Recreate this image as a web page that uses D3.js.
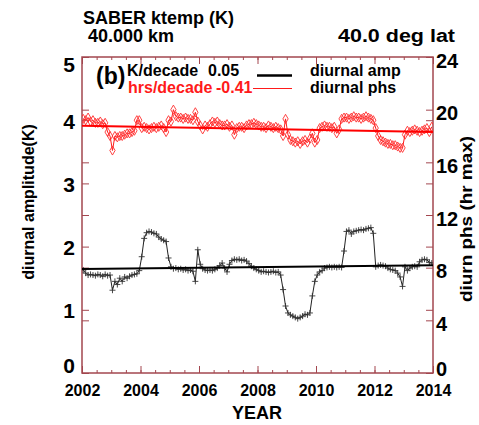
<!DOCTYPE html>
<html>
<head>
<meta charset="utf-8">
<script src="https://cdn.jsdelivr.net/npm/d3@7"></script>
<style>
body { margin: 0; background: #fff; }
text { font-family: "Liberation Sans", Arial, Helvetica, sans-serif; font-weight: bold; }
</style>
</head>
<body>
<svg id="chart" width="479" height="425"></svg>
<script>
// monthly values, one row per year (2002..2013)
var years = [2002, 2003, 2004, 2005, 2006, 2007, 2008, 2009, 2010, 2011, 2012, 2013];
var ampByYear = [
  [1.63,1.58,1.55,1.56,1.55,1.54,1.56,1.55,1.53,1.56,1.54,1.55],
  [1.31,1.45,1.40,1.50,1.45,1.52,1.50,1.53,1.55,1.56,1.57,1.62],
  [1.84,2.13,2.22,2.24,2.23,2.21,2.20,2.15,2.12,2.10,2.08,1.82],
  [1.68,1.65,1.66,1.64,1.65,1.63,1.64,1.62,1.63,1.61,1.45,1.95],
  [1.72,1.65,1.63,1.62,1.63,1.62,1.64,1.66,1.70,1.74,1.66,1.60],
  [1.72,1.78,1.80,1.79,1.80,1.78,1.79,1.77,1.73,1.69,1.66,1.64],
  [1.62,1.60,1.61,1.60,1.59,1.60,1.61,1.59,1.60,1.55,1.32,1.06],
  [0.95,0.92,0.90,0.88,0.86,0.88,0.90,0.93,0.92,0.95,1.22,1.45],
  [1.55,1.60,1.62,1.66,1.67,1.68,1.67,1.68,1.67,1.68,1.67,1.93],
  [2.24,2.26,2.20,2.24,2.25,2.26,2.27,2.26,2.28,2.29,2.30,2.21],
  [1.68,1.70,1.71,1.70,1.69,1.66,1.64,1.63,1.62,1.58,1.52,1.37],
  [1.68,1.62,1.66,1.68,1.69,1.68,1.76,1.79,1.80,1.79,1.75,1.74]
];
var phsByYear = [
  [19.3,19.2,19.4,19.1,19.2,19.0,19.0,19.1,18.9,19.0,18.3,18.0],
  [16.9,18.0,17.9,18.0,18.0,18.1,18.2,18.2,18.3,18.4,19.2,19.2],
  [18.6,18.7,18.6,18.5,18.6,18.7,18.6,18.7,18.8,18.6,18.3,19.2],
  [19.1,20.0,19.5,19.4,19.4,19.3,19.4,19.3,19.3,19.2,19.8,19.1],
  [18.8,18.5,18.8,18.7,18.9,19.1,19.0,19.1,18.9,18.8,18.8,18.9],
  [18.7,18.8,18.1,18.6,18.7,18.7,18.6,18.8,18.9,18.9,19.0,18.9],
  [18.8,18.7,18.7,18.6,18.8,18.7,18.6,18.7,18.6,18.5,18.0,19.3],
  [18.1,17.7,17.6,17.5,17.6,17.4,17.6,17.7,17.5,17.8,18.2,17.5],
  [17.7,18.6,18.7,18.8,18.7,18.7,18.6,18.7,18.2,18.5,19.3,19.4],
  [19.4,19.3,19.4,19.5,19.4,19.4,19.3,19.4,19.5,19.4,19.3,19.2],
  [18.6,18.0,17.7,17.6,17.5,17.4,17.4,17.3,17.3,17.2,17.1,17.1],
  [18.1,18.4,18.3,18.4,18.5,18.4,18.3,18.4,18.5,18.6,18.3,18.7]
];
// linear trends, value at 2002 and at 2014
var ampTrend = [1.645, 1.705];
var phsTrend = [18.78, 18.30];
var trendYears = [2002, 2014];

var kTicks = [0, 1, 2, 3, 4, 5];
var hrTicks = [0, 4, 8, 12, 16, 20, 24];
var yearTicks = [2002, 2004, 2006, 2008, 2010, 2012, 2014];

var frameColor = "#a3474f";

var svg = d3.select("#chart");
// plot box edges (note: "top" is taken by window.top)
var plotL = 82, plotR = 433, plotT = 57, plotB = 373;

var x = d3.scaleLinear().domain([2002, 2014]).range([plotL, plotR]);
var yK = d3.scaleLinear().domain([0, 5]).range([plotB, plotT]);
var yH = d3.scaleLinear().domain([0, 24]).range([plotB, plotT]);

function monthly(rows) {
  var out = [];
  rows.forEach(function(row, i) {
    row.forEach(function(v, m) {
      out.push({ t: years[i] + (m + 0.5) / 12, v: v });
    });
  });
  return out;
}
var amp = monthly(ampByYear);
var phs = monthly(phsByYear);

// header
svg.append("text").attr("x", 83).attr("y", 24).attr("font-size", 18).text("SABER ktemp (K)");
svg.append("text").attr("x", 88).attr("y", 42).attr("font-size", 18).text("40.000 km");
svg.append("text").attr("x", 455).attr("y", 42).attr("font-size", 18)
  .attr("text-anchor", "end").attr("textLength", 117).attr("lengthAdjust", "spacingAndGlyphs")
  .text("40.0 deg lat");

svg.append("defs").append("clipPath").attr("id", "clip")
  .append("rect").attr("x", plotL).attr("y", plotT).attr("width", plotR - plotL).attr("height", plotB - plotT);

// axes (ticks inward)
function styleAxis(g, size) {
  g.select(".domain").remove();
  g.selectAll("line").attr("stroke", frameColor).attr("stroke-width", 1);
  g.selectAll("text").attr("font-family", null).attr("font-size", size).attr("fill", "#000");
}

var minorYears = d3.range(2002, 2014.01, 0.5);
svg.append("g").attr("transform", "translate(0," + plotB + ")")
  .call(d3.axisBottom(x).tickValues(minorYears).tickSize(-3).tickFormat(""))
  .call(styleAxis, 16);
svg.append("g").attr("transform", "translate(0," + plotT + ")")
  .call(d3.axisTop(x).tickValues(minorYears).tickSize(-3).tickFormat(""))
  .call(styleAxis, 16);
svg.append("g").attr("transform", "translate(0," + plotB + ")")
  .call(d3.axisBottom(x).tickValues(yearTicks).tickSize(-7).tickPadding(12).tickFormat(d3.format("d")))
  .call(styleAxis, 16);
svg.append("g").attr("transform", "translate(0," + plotT + ")")
  .call(d3.axisTop(x).tickValues(yearTicks).tickSize(-7).tickFormat(""))
  .call(styleAxis, 16);

// label nudges: end labels pulled inward like the original plot
var leftAx = svg.append("g").attr("transform", "translate(" + plotL + ",0)")
  .call(d3.axisLeft(yK).tickValues(kTicks).tickSize(-7).tickPadding(7).tickFormat(d3.format("d")))
  .call(styleAxis, 21);
leftAx.selectAll("text").attr("dy", null)
  .attr("y", function(d) { return d === 5 ? 14 : d === 0 ? -1 : 8; });
svg.append("g").attr("transform", "translate(" + plotL + ",0)")
  .call(d3.axisLeft(yH).tickValues(hrTicks).tickSize(-7).tickFormat(""))
  .call(styleAxis, 21);

var rightAx = svg.append("g").attr("transform", "translate(" + plotR + ",0)")
  .call(d3.axisRight(yH).tickValues(hrTicks).tickSize(-7).tickPadding(3))
  .call(styleAxis, 20);
rightAx.selectAll("text").attr("dy", null)
  .attr("y", function(d) { return d === 0 ? 2 : 10; });
svg.append("g").attr("transform", "translate(" + plotR + ",0)")
  .call(d3.axisRight(yK).tickValues(kTicks).tickSize(-7).tickFormat(""))
  .call(styleAxis, 20);

// frame
svg.append("rect").attr("x", plotL).attr("y", plotT)
  .attr("width", plotR - plotL).attr("height", plotB - plotT)
  .attr("fill", "none").attr("stroke", frameColor).attr("stroke-width", 1.5);

// axis titles
svg.append("text").attr("transform", "translate(34,202) rotate(-90)")
  .attr("text-anchor", "middle").attr("font-size", 16).text("diurnal amplitude(K)");
svg.append("text").attr("transform", "translate(472,219) rotate(-90)")
  .attr("text-anchor", "middle").attr("font-size", 17)
  .attr("textLength", 166).attr("lengthAdjust", "spacingAndGlyphs")
  .text("diurn phs (hr max)");
svg.append("text").attr("x", 257).attr("y", 419).attr("text-anchor", "middle")
  .attr("font-size", 18).text("YEAR");

var plot = svg.append("g").attr("clip-path", "url(#clip)");

// phase series (red, right axis)
var linePhs = d3.line().x(function(d) { return x(d.t); }).y(function(d) { return yH(d.v); });
plot.append("path").datum(phs).attr("d", linePhs)
  .attr("fill", "none").attr("stroke", "#ff1a1a").attr("stroke-width", 1);
plot.selectAll(".dia").data(phs).enter().append("path")
  .attr("class", "dia")
  .attr("transform", function(d) { return "translate(" + x(d.t) + "," + yH(d.v) + ")"; })
  .attr("d", d3.symbol(d3.symbolDiamond).size(24))
  .attr("fill", "none").attr("stroke", "#ff3030").attr("stroke-width", 0.9);
plot.append("path")
  .datum(trendYears.map(function(t, i) { return { t: t, v: phsTrend[i] }; }))
  .attr("d", linePhs).attr("fill", "none").attr("stroke", "#ff0000").attr("stroke-width", 2);

// amplitude series (black, left axis)
var lineAmp = d3.line().x(function(d) { return x(d.t); }).y(function(d) { return yK(d.v); });
plot.append("path").datum(amp).attr("d", lineAmp)
  .attr("fill", "none").attr("stroke", "#222").attr("stroke-width", 1);
plot.selectAll(".plus").data(amp).enter().append("path")
  .attr("class", "plus")
  .attr("transform", function(d) { return "translate(" + x(d.t) + "," + yK(d.v) + ")"; })
  .attr("d", "M-3,0H3M0,-3V3")
  .attr("stroke", "#333").attr("stroke-width", 0.9);
plot.append("path")
  .datum(trendYears.map(function(t, i) { return { t: t, v: ampTrend[i] }; }))
  .attr("d", lineAmp).attr("fill", "none").attr("stroke", "#000").attr("stroke-width", 2);

// legend
svg.append("text").attr("x", 96).attr("y", 84).attr("font-size", 23).text("(b)");
svg.append("text").attr("x", 127).attr("y", 76).attr("font-size", 16).text("K/decade");
svg.append("text").attr("x", 208).attr("y", 76).attr("font-size", 16).text("0.05");
svg.append("line").attr("x1", 257).attr("x2", 292).attr("y1", 75.5).attr("y2", 75.5)
  .attr("stroke", "#000").attr("stroke-width", 2.5);
svg.append("text").attr("x", 310).attr("y", 76).attr("font-size", 16).text("diurnal amp");

svg.append("text").attr("x", 128).attr("y", 93).attr("font-size", 16).attr("fill", "#ff1a1a").text("hrs/decade");
svg.append("text").attr("x", 216).attr("y", 93).attr("font-size", 16).attr("fill", "#ff1a1a").text("-0.41");
svg.append("line").attr("x1", 253).attr("x2", 292).attr("y1", 88.5).attr("y2", 88.5)
  .attr("stroke", "#ff1a1a").attr("stroke-width", 1);
svg.append("text").attr("x", 310).attr("y", 93).attr("font-size", 16).text("diurnal phs");
</script>
</body>
</html>
